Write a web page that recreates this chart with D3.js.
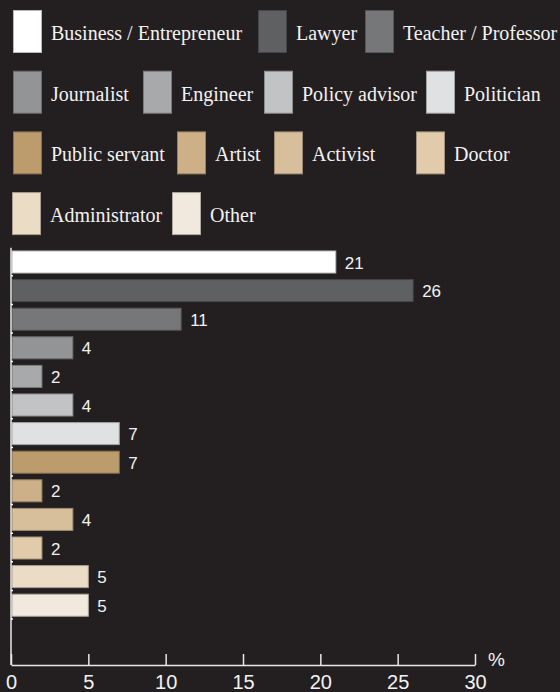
<!DOCTYPE html>
<html>
<head>
<meta charset="utf-8">
<script src="https://cdn.jsdelivr.net/npm/d3@7"></script>
<style>
  html, body { margin: 0; padding: 0; background: #231f20; }
  svg { display: block; }
</style>
</head>
<body>
<div id="chart"></div>
<script>
const professions = [
  "Business / Entrepreneur", "Lawyer", "Teacher / Professor",
  "Journalist", "Engineer", "Policy advisor", "Politician",
  "Public servant", "Artist", "Activist", "Doctor",
  "Administrator", "Other"
];
const shares = [21, 26, 11, 4, 2, 4, 7, 7, 2, 4, 2, 5, 5];
const colors = [
  "#ffffff", "#5f6062", "#767778",
  "#939495", "#a8a9ab", "#c2c3c5", "#e0e1e2",
  "#bc9c6c", "#cdb088", "#d8bf9c", "#e2cbaa",
  "#ebdcc6", "#f1e9de"
];
const xTicks = [0, 5, 10, 15, 20, 25, 30];

// legend layout: which items go on which row, and where each swatch sits
const legendRows = [[0, 1, 2], [3, 4, 5, 6], [7, 8, 9, 10], [11, 12]];
const legendX = [[13, 258, 365], [13, 143, 264, 426], [13, 177, 274, 416], [12, 172]];

const width = 560;
const height = 692;
const axisColor = "#e8e8e8";

const svg = d3.select("#chart").append("svg")
  .attr("width", width)
  .attr("height", height)
  .style("background-color", "#231f20");

// ---- legend
const legend = svg.append("g").attr("class", "legend");

legendRows.forEach((row, r) => {
  const top = 10 + r * 60.7;
  row.forEach((idx, j) => {
    const x = legendX[r][j];
    const item = legend.append("g").attr("transform", `translate(${x}, ${top})`);
    item.append("rect")
      .attr("x", 0.5)
      .attr("y", 0.5)
      .attr("width", 28)
      .attr("height", 42)
      .attr("fill", colors[idx])
      .attr("stroke", d3.color(colors[idx]).darker(0.9))
      .attr("stroke-width", 1);
    item.append("text")
      .attr("x", 38)
      .attr("y", 30)
      .style("font-family", "'Liberation Serif', serif")
      .style("font-size", "20px")
      .style("fill", "#f2f2f2")
      .text(professions[idx]);
  });
});

// ---- bars
const left = 11;
const xScale = d3.scaleLinear().domain([0, 30]).range([left, 475]);
const yScale = d3.scaleBand()
  .domain(professions)
  .range([247.7, 619.5])
  .paddingInner(0.23)
  .paddingOuter(0.115);

const axisY = 665;

const bars = svg.append("g").attr("class", "bars");

bars.selectAll("rect")
  .data(professions)
  .join("rect")
    .attr("x", xScale(0) + 1)
    .attr("y", d => yScale(d))
    .attr("width", (d, i) => xScale(shares[i]) - xScale(0) - 1)
    .attr("height", yScale.bandwidth())
    .attr("fill", (d, i) => colors[i])
    .attr("stroke", (d, i) => d3.color(colors[i]).darker(0.9))
    .attr("stroke-width", 1);

bars.selectAll("text")
  .data(professions)
  .join("text")
    .attr("x", (d, i) => xScale(shares[i]) + 9)
    .attr("y", d => yScale(d) + yScale.bandwidth() / 2 + 6.5)
    .style("font-family", "'Liberation Sans', sans-serif")
    .style("font-size", "17px")
    .style("fill", "#f2f2f2")
    .text((d, i) => shares[i]);

// ---- y axis line with small ticks between bands
const yAxis = svg.append("g").attr("class", "y-axis");

yAxis.append("line")
  .attr("x1", left).attr("x2", left)
  .attr("y1", yScale.range()[0]).attr("y2", axisY)
  .attr("stroke", axisColor)
  .attr("stroke-width", 1.5);

yAxis.selectAll(".sep")
  .data(professions)
  .join("line")
    .attr("class", "sep")
    .attr("x1", left).attr("x2", left + 2)
    .attr("y1", d => yScale(d) + yScale.step() * (1 - 0.115) - 0.5)
    .attr("y2", d => yScale(d) + yScale.step() * (1 - 0.115) - 0.5)
    .attr("stroke", "#ffffff")
    .attr("stroke-width", 1.5);

// ---- x axis
const xAxis = svg.append("g")
  .attr("class", "x-axis")
  .attr("transform", `translate(0, ${axisY})`)
  .call(d3.axisBottom(xScale).tickValues(xTicks).tickSize(0).tickPadding(10).tickSizeOuter(0));

xAxis.select(".domain")
  .attr("stroke", axisColor)
  .attr("stroke-width", 1.5);

xAxis.selectAll(".tick line")
  .attr("y1", 0)
  .attr("y2", -11)
  .attr("stroke", axisColor)
  .attr("stroke-width", 1.5);

xAxis.selectAll(".tick text")
  .attr("y", 10)
  .attr("dy", "0.71em")
  .style("font-family", "'Liberation Sans', sans-serif")
  .style("font-size", "20px")
  .style("fill", "#f2f2f2");

svg.append("text")
  .attr("x", xScale(30) + 13)
  .attr("y", axisY + 1)
  .style("font-family", "'Liberation Sans', sans-serif")
  .style("font-size", "19px")
  .style("fill", "#f2f2f2")
  .text("%");
</script>
</body>
</html>
